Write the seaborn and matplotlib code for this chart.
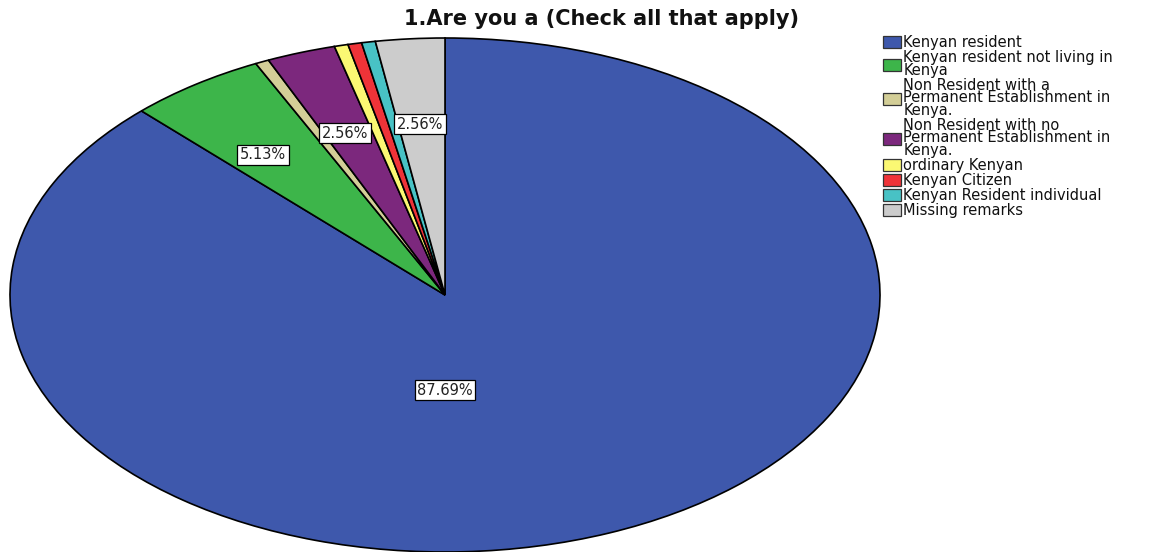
import matplotlib
matplotlib.use("Agg")
import matplotlib.pyplot as plt
from matplotlib.patches import Patch
import seaborn as sns

# Response categories and counts (n = 195)
categories = [
    "Kenyan resident",
    "Kenyan resident not living in\nKenya",
    "Non Resident with a\nPermanent Establishment in\nKenya.",
    "Non Resident with no\nPermanent Establishment in\nKenya.",
    "ordinary Kenyan",
    "Kenyan Citizen",
    "Kenyan Resident individual",
    "Missing remarks",
]
counts = [171, 10, 1, 5, 1, 1, 1, 5]
percentages = [87.69, 5.13, 0.51, 2.56, 0.51, 0.51, 0.51, 2.56]
colors = ["#3E58AC", "#3DB54A", "#D3CE97", "#7C287D",
          "#FBF873", "#EF3338", "#48C2C5", "#CCCCCC"]
title = "1.Are you a (Check all that apply)"

sns.set_theme(style="white")
palette = sns.color_palette(colors)
plt.rcParams["font.family"] = ["DejaVu Sans"]

fig = plt.figure(figsize=(11.61, 5.52), dpi=100)
ax = fig.add_axes([10 / 1161, 0.0, 870 / 1161, (552 - 38) / 552])

wedges, _ = ax.pie(
    percentages,
    colors=palette,
    startangle=90,
    counterclock=False,
    wedgeprops=dict(edgecolor="black", linewidth=1.2),
)
ax.set_aspect("auto")
ax.set_xlim(-1, 1)
ax.set_ylim(-1, 1)
for w in wedges:
    w.set_clip_on(False)

# value labels on the larger slices
box = dict(boxstyle="square,pad=0.18", fc="white", ec="black", lw=0.9)
label_pos = {0: (0.0, -0.37), 1: (-0.418, 0.545), 3: (-0.23, 0.63), 7: (-0.057, 0.665)}
for i, (x, y) in label_pos.items():
    ax.text(x, y, f"{percentages[i]:.2f}%", ha="center", va="center",
            fontsize=10.5, color="#222222", bbox=box)

fig.text(602 / 1161, 1 - 19 / 552, title, ha="center", va="center",
         fontsize=15, fontweight="bold", color="#111111")

handles = [Patch(facecolor=c, edgecolor="#333333", linewidth=0.9) for c in palette]
fig.legend(
    handles, categories,
    loc="upper left",
    bbox_to_anchor=(883 / 1161, 1 - 35 / 552),
    frameon=False,
    fontsize=10.5,
    handlelength=1.2,
    handleheight=0.9,
    handletextpad=0.2,
    labelspacing=0.0,
    borderpad=0,
    borderaxespad=0,
)
for t in fig.legends[0].get_texts():
    t.set_linespacing(0.8)
    t.set_color("#111111")

fig.savefig("out.png", dpi=100)
